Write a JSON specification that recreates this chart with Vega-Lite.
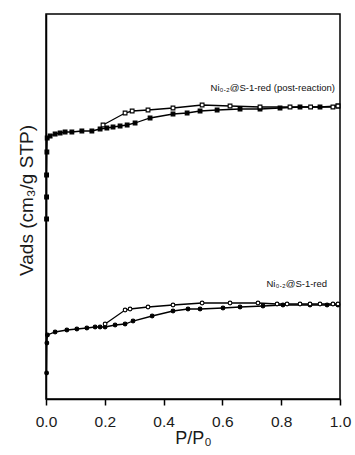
{
  "$schema": "https://vega.github.io/schema/vega-lite/v6.json",
  "width": 294,
  "height": 385,
  "autosize": {"type": "none"},
  "padding": {"left": 46, "top": 14, "right": 15, "bottom": 56},
  "config": {
    "view": {"stroke": "#000", "strokeWidth": 1.5},
    "font": "Liberation Sans"
  },
  "datasets": {
    "pts": [
      {"s": "post_ads", "i": 1, "P": 0.002, "V": 180},
      {"s": "post_ads", "i": 2, "P": 0.002, "V": 202},
      {"s": "post_ads", "i": 3, "P": 0.002, "V": 224},
      {"s": "post_ads", "i": 4, "P": 0.003, "V": 247},
      {"s": "post_ads", "i": 5, "P": 0.004, "V": 261},
      {"s": "post_ads", "i": 6, "P": 0.014, "V": 263},
      {"s": "post_ads", "i": 7, "P": 0.031, "V": 265},
      {"s": "post_ads", "i": 8, "P": 0.048, "V": 266},
      {"s": "post_ads", "i": 9, "P": 0.065, "V": 267},
      {"s": "post_ads", "i": 10, "P": 0.088, "V": 267},
      {"s": "post_ads", "i": 11, "P": 0.122, "V": 268},
      {"s": "post_ads", "i": 12, "P": 0.156, "V": 268},
      {"s": "post_ads", "i": 13, "P": 0.184, "V": 270},
      {"s": "post_ads", "i": 14, "P": 0.207, "V": 271},
      {"s": "post_ads", "i": 15, "P": 0.228, "V": 272},
      {"s": "post_ads", "i": 16, "P": 0.252, "V": 273},
      {"s": "post_ads", "i": 17, "P": 0.276, "V": 274},
      {"s": "post_ads", "i": 18, "P": 0.303, "V": 276},
      {"s": "post_ads", "i": 19, "P": 0.354, "V": 281},
      {"s": "post_ads", "i": 20, "P": 0.432, "V": 285},
      {"s": "post_ads", "i": 21, "P": 0.480, "V": 286},
      {"s": "post_ads", "i": 22, "P": 0.524, "V": 288},
      {"s": "post_ads", "i": 23, "P": 0.582, "V": 289},
      {"s": "post_ads", "i": 24, "P": 0.660, "V": 290},
      {"s": "post_ads", "i": 25, "P": 0.728, "V": 290},
      {"s": "post_ads", "i": 26, "P": 0.796, "V": 291},
      {"s": "post_ads", "i": 27, "P": 0.864, "V": 292},
      {"s": "post_ads", "i": 28, "P": 0.932, "V": 292},
      {"s": "post_ads", "i": 29, "P": 0.993, "V": 293},

      {"s": "post_des", "i": 1, "P": 0.993, "V": 293},
      {"s": "post_des", "i": 2, "P": 0.976, "V": 292},
      {"s": "post_des", "i": 3, "P": 0.900, "V": 292},
      {"s": "post_des", "i": 4, "P": 0.830, "V": 292},
      {"s": "post_des", "i": 5, "P": 0.728, "V": 292},
      {"s": "post_des", "i": 6, "P": 0.626, "V": 293},
      {"s": "post_des", "i": 7, "P": 0.531, "V": 294},
      {"s": "post_des", "i": 8, "P": 0.432, "V": 291},
      {"s": "post_des", "i": 9, "P": 0.347, "V": 289},
      {"s": "post_des", "i": 10, "P": 0.293, "V": 288},
      {"s": "post_des", "i": 11, "P": 0.269, "V": 286},
      {"s": "post_des", "i": 12, "P": 0.194, "V": 274},

      {"s": "fresh_ads", "i": 1, "P": 0.002, "V": 26},
      {"s": "fresh_ads", "i": 2, "P": 0.003, "V": 56},
      {"s": "fresh_ads", "i": 3, "P": 0.005, "V": 64},
      {"s": "fresh_ads", "i": 4, "P": 0.031, "V": 67},
      {"s": "fresh_ads", "i": 5, "P": 0.071, "V": 69},
      {"s": "fresh_ads", "i": 6, "P": 0.105, "V": 70},
      {"s": "fresh_ads", "i": 7, "P": 0.139, "V": 71},
      {"s": "fresh_ads", "i": 8, "P": 0.167, "V": 72},
      {"s": "fresh_ads", "i": 9, "P": 0.184, "V": 72},
      {"s": "fresh_ads", "i": 10, "P": 0.201, "V": 72},
      {"s": "fresh_ads", "i": 11, "P": 0.235, "V": 74},
      {"s": "fresh_ads", "i": 12, "P": 0.269, "V": 75},
      {"s": "fresh_ads", "i": 13, "P": 0.296, "V": 78},
      {"s": "fresh_ads", "i": 14, "P": 0.361, "V": 83},
      {"s": "fresh_ads", "i": 15, "P": 0.432, "V": 88},
      {"s": "fresh_ads", "i": 16, "P": 0.483, "V": 90},
      {"s": "fresh_ads", "i": 17, "P": 0.524, "V": 90},
      {"s": "fresh_ads", "i": 18, "P": 0.602, "V": 91},
      {"s": "fresh_ads", "i": 19, "P": 0.660, "V": 92},
      {"s": "fresh_ads", "i": 20, "P": 0.738, "V": 93},
      {"s": "fresh_ads", "i": 21, "P": 0.806, "V": 94},
      {"s": "fresh_ads", "i": 22, "P": 0.898, "V": 94},
      {"s": "fresh_ads", "i": 23, "P": 0.956, "V": 94},
      {"s": "fresh_ads", "i": 24, "P": 0.993, "V": 94},

      {"s": "fresh_des", "i": 1, "P": 0.993, "V": 95},
      {"s": "fresh_des", "i": 2, "P": 0.976, "V": 95},
      {"s": "fresh_des", "i": 3, "P": 0.932, "V": 95},
      {"s": "fresh_des", "i": 4, "P": 0.898, "V": 95},
      {"s": "fresh_des", "i": 5, "P": 0.864, "V": 95},
      {"s": "fresh_des", "i": 6, "P": 0.820, "V": 95},
      {"s": "fresh_des", "i": 7, "P": 0.786, "V": 95},
      {"s": "fresh_des", "i": 8, "P": 0.721, "V": 96},
      {"s": "fresh_des", "i": 9, "P": 0.626, "V": 96},
      {"s": "fresh_des", "i": 10, "P": 0.531, "V": 96},
      {"s": "fresh_des", "i": 11, "P": 0.432, "V": 94},
      {"s": "fresh_des", "i": 12, "P": 0.347, "V": 92},
      {"s": "fresh_des", "i": 13, "P": 0.286, "V": 90},
      {"s": "fresh_des", "i": 14, "P": 0.269, "V": 89},
      {"s": "fresh_des", "i": 15, "P": 0.201, "V": 75}
    ],
    "labels": [
      {"P": 0.983, "V": 311, "t": "Ni₀.₂@S-1-red (post-reaction)"},
      {"P": 0.956, "V": 115, "t": "Ni₀.₂@S-1-red"}
    ]
  },
  "layer": [
    {
      "data": {"name": "pts"},
      "mark": {"type": "line", "color": "#000", "strokeWidth": 1.3},
      "encoding": {
        "x": {"field": "P", "type": "quantitative", "scale": {"domain": [0, 1], "nice": false},
          "axis": {
            "values": [0, 0.1, 0.2, 0.3, 0.4, 0.5, 0.6, 0.7, 0.8, 0.9, 1.0],
            "labelExpr": "round(datum.value*10)%2==0 ? format(datum.value,'.1f') : ''",
            "tickSize": {"condition": {"test": "round(datum.value*10)%2==0", "value": 6}, "value": 3},
            "tickColor": "#000", "tickWidth": 1.5,
            "domainColor": "#000", "domainWidth": 1.5,
            "labelFontSize": 15.5, "labelColor": "#1a1a1a", "labelPadding": 9, "labelFlush": false,
            "grid": false,
            "title": "P/P₀", "titleFontSize": 18, "titleFontWeight": "normal", "titleColor": "#1a1a1a", "titlePadding": 0
          }},
        "y": {"field": "V", "type": "quantitative", "scale": {"domain": [0, 385], "nice": false},
          "axis": {
            "labels": false, "ticks": false, "grid": false,
            "domainColor": "#000", "domainWidth": 1.5,
            "title": "Vads (cm₃/g STP)", "titleFontSize": 19, "titleFontWeight": "normal", "titleColor": "#1a1a1a",
            "titleX": -14, "titleY": 186, "titleAngle": -90, "titleAlign": "center", "titleBaseline": "alphabetic"
          }},
        "detail": {"field": "s"},
        "order": {"field": "i"}
      }
    },
    {
      "data": {"name": "pts"},
      "mark": {"type": "point", "size": 14, "strokeWidth": 1.1, "opacity": 1},
      "encoding": {
        "x": {"field": "P", "type": "quantitative"},
        "y": {"field": "V", "type": "quantitative"},
        "shape": {"field": "s", "type": "nominal",
          "scale": {"domain": ["post_ads", "post_des", "fresh_ads", "fresh_des"], "range": ["square", "square", "circle", "circle"]},
          "legend": null},
        "fill": {"field": "s", "type": "nominal",
          "scale": {"domain": ["post_ads", "post_des", "fresh_ads", "fresh_des"], "range": ["#000", "#fff", "#000", "#fff"]},
          "legend": null},
        "stroke": {"value": "#000"}
      }
    },
    {
      "data": {"name": "labels"},
      "mark": {"type": "text", "align": "right", "baseline": "middle", "fontSize": 9.5, "font": "Liberation Sans", "color": "#111"},
      "encoding": {
        "x": {"field": "P", "type": "quantitative"},
        "y": {"field": "V", "type": "quantitative"},
        "text": {"field": "t"}
      }
    }
  ]
}
